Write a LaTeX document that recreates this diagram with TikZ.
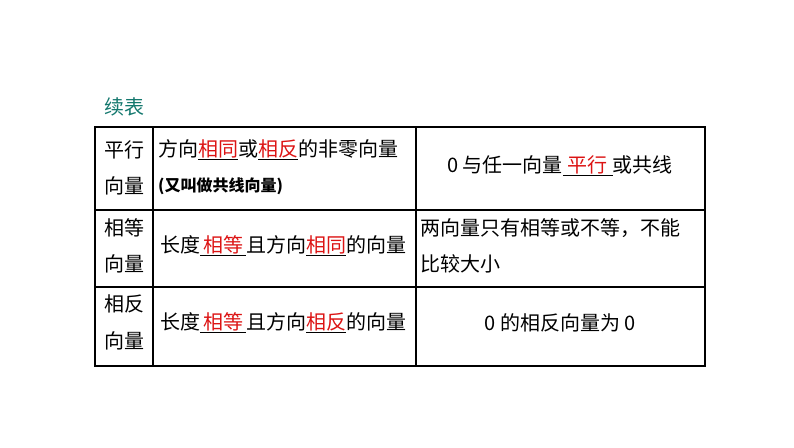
\documentclass[tikz,border=0pt]{standalone}
\usepackage{fontspec}
\setmainfont{Noto Sans CJK SC}
\definecolor{teal1}{RGB}{20,120,110}
\definecolor{ans}{RGB}{220,20,20}
\newcommand{\blank}[2]{\underline{\makebox[#1pt]{\color{ans}#2}}}
\begin{document}
\begin{tikzpicture}[x=1pt,y=-1pt,
  txt/.style={inner sep=0pt,font=\fontsize{20}{22}\selectfont},
  grid/.style={line width=1.2pt}]
\useasboundingbox (0,0) rectangle (794,447);
\node[txt,text=teal1,anchor=west] (title) at (104,107) {续表};
\draw[grid] (95,127) rectangle (705,366);
\draw[grid] (95,210) -- (705,210) (95,287) -- (705,287);
\draw[grid] (153,127) -- (153,366) (416,127) -- (416,366);
% col1
\node[txt] (a1) at (124,150) {平行};
\node[txt] (a2) at (124,186) {向量};
\node[txt] (b1) at (124,228) {相等};
\node[txt] (b2) at (124,264) {向量};
\node[txt] (c1) at (124,304) {相反};
\node[txt] (c2) at (124,341) {向量};
% col2
\node[txt,anchor=west] (r1a) at (158,150) {方向\blank{40}{相同}或\blank{40}{相反}的非零向量};
\node[txt,anchor=west,font=\fontsize{16}{18}\selectfont\bfseries] (r1b) at (158,186) {(又叫做共线向量)};
\node[txt,anchor=west] (r2) at (160,246) {长度\blank{46}{相等}且方向\blank{40}{相同}的向量};
\node[txt,anchor=west] (r3) at (160,323) {长度\blank{46}{相等}且方向\blank{40}{相反}的向量};
% col3
\node[txt] (s1) at (560,166) {0 与任一向量\blank{50}{平行}或共线};
\node[txt,anchor=west] (s2a) at (420,228) {两向量只有相等或不等，不能};
\node[txt,anchor=west] (s2b) at (420,264) {比较大小};
\node[txt] (s3) at (560,323) {0 的相反向量为 0};
\end{tikzpicture}
\end{document}
